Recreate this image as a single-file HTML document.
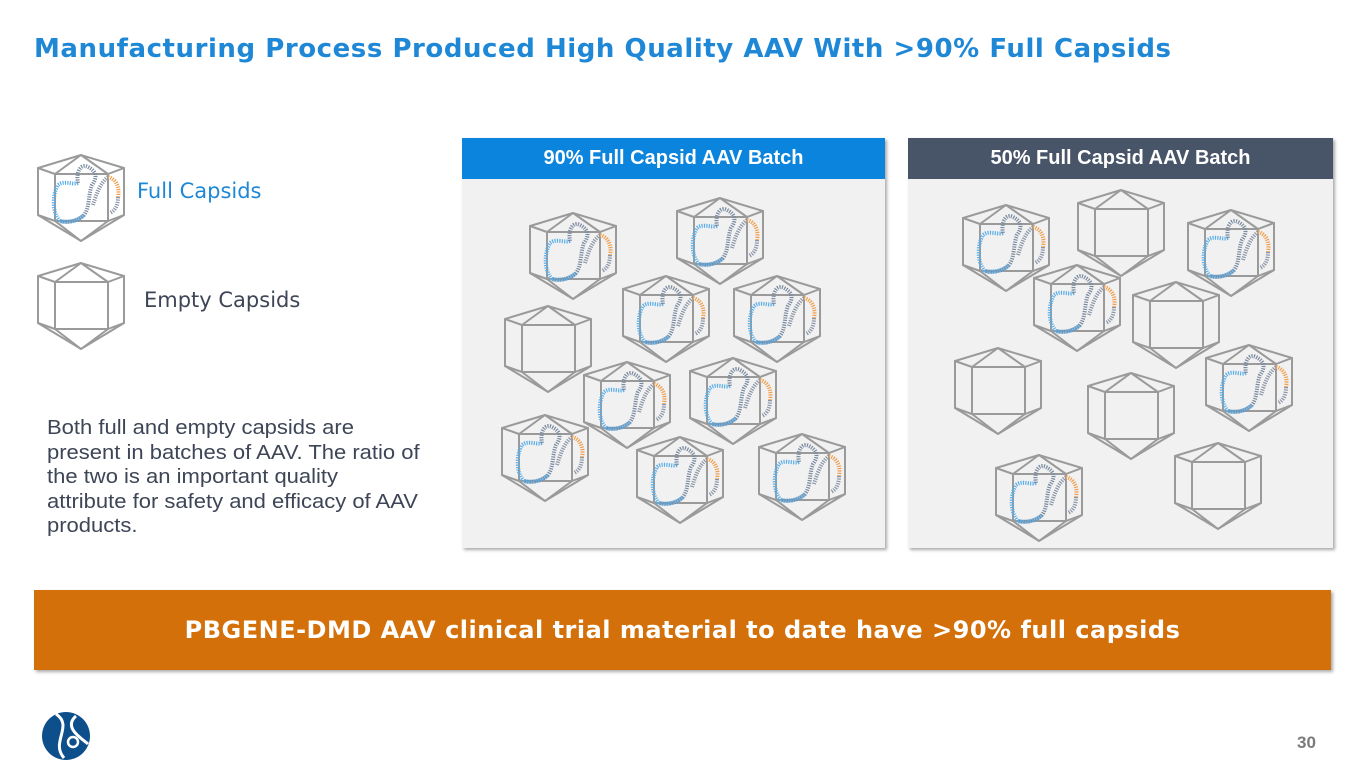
<!DOCTYPE html>
<html><head><meta charset="utf-8"><style>
body{margin:0;width:1365px;height:768px;background:#fff;position:relative;overflow:hidden;font-family:"Liberation Sans",sans-serif}
.t{position:absolute;white-space:nowrap}
</style></head><body>
<div class="t" style="left:34px;top:34px;font-size:26px;font-weight:bold;color:#1e88d6;font-family:'DejaVu Sans',sans-serif;letter-spacing:0.55px">Manufacturing Process Produced High Quality AAV With &gt;90% Full Capsids</div>
<div class="t" style="left:137px;top:179px;font-size:21px;color:#1e88d6;font-family:'DejaVu Sans',sans-serif">Full Capsids</div>
<div class="t" style="left:144px;top:288px;font-size:21px;color:#3d4556;font-family:'DejaVu Sans',sans-serif">Empty Capsids</div>
<div class="t" style="left:47px;top:416px;font-size:20px;line-height:24.5px;color:#3d4556;transform:scaleX(1.1);transform-origin:0 0">Both full and empty capsids are<br>present in batches of AAV. The ratio of<br>the two is an important quality<br>attribute for safety and efficacy of AAV<br>products.</div>
<div style="position:absolute;left:462px;top:138px;width:423px;height:410px;background:#f1f1f1;box-shadow:2px 2px 3px #aaa"></div>
<div style="position:absolute;left:908px;top:138px;width:425px;height:410px;background:#f1f1f1;box-shadow:2px 2px 3px #aaa"></div>
<div class="t" style="left:462px;top:138px;width:423px;height:41px;background:#0a84dc;color:#fff;font-size:20px;font-weight:bold;text-align:center;line-height:41px">90% Full Capsid AAV Batch</div>
<div class="t" style="left:908px;top:138px;width:425px;height:41px;background:#485468;color:#fff;font-size:20px;font-weight:bold;text-align:center;line-height:41px">50% Full Capsid AAV Batch</div>
<svg style="position:absolute;left:0;top:0" width="1365" height="768">
<defs>
<g id="e" fill="none" stroke="#9a9a9a" stroke-width="2">
<polygon points="43,0 0,13 0,60 43,86 86,60 86,13"/>
<rect x="17" y="19" width="53" height="47"/>
<path d="M43,0L17,19M43,0L70,19M0,13L17,19M86,13L70,19M0,60L17,66M86,60L70,66M43,86L17,66M43,86L70,66"/>
</g>
<g id="f">
<use href="#e"/>
<g fill="none" stroke-width="4" stroke-dasharray="1.2 1.2">
<path d="M22,66 C14,58 14,40 20,30 C26,25 34,30 40,28" stroke="#5aaee8"/>
<path d="M40,28 C38,18 42,8 50,12 C58,16 60,22 54,30 C50,40 52,52 46,60 C40,66 30,68 22,66" stroke="#7a8aa0"/>
<path d="M22,66 C30,68 40,66 46,60" stroke="#5aaee8"/>
<path d="M55,50 C58,40 62,28 70,22" stroke="#8a96a8"/>
<path d="M70,22 C78,24 82,32 80,42" stroke="#f0a050"/>
<path d="M80,42 C80,52 76,56 72,58" stroke="#8a96a8"/>
</g>
</g>
</defs>
<use href="#f" x="38" y="155"/>
<use href="#e" x="38" y="263"/>
<use href="#f" x="530" y="213"/><use href="#f" x="677" y="198"/><use href="#f" x="623" y="276"/><use href="#f" x="734" y="276"/><use href="#f" x="584" y="362"/><use href="#f" x="690" y="358"/><use href="#f" x="502" y="415"/><use href="#f" x="637" y="437"/><use href="#f" x="759" y="434"/><use href="#e" x="505" y="306"/>
<use href="#f" x="963" y="205"/><use href="#f" x="1188" y="210"/><use href="#f" x="1034" y="265"/><use href="#f" x="1206" y="345"/><use href="#f" x="996" y="455"/>
<use href="#e" x="1078" y="190"/><use href="#e" x="1133" y="282"/><use href="#e" x="955" y="348"/><use href="#e" x="1088" y="373"/><use href="#e" x="1175" y="443"/>
<circle cx="66" cy="736" r="24" fill="#0d4f8b"/>
<path d="M56,714 C74,726 50,742 64,758 M76,716 C62,728 84,740 88,744" stroke="#fff" stroke-width="3" fill="none"/>
<circle cx="73" cy="742" r="5" fill="none" stroke="#fff" stroke-width="2.5"/>
</svg>
<div class="t" style="left:34px;top:590px;width:1297px;height:80px;background:#d4700a;box-shadow:2px 2px 3px #aaa;color:#fff;font-size:24px;font-weight:bold;text-align:center;line-height:80px;font-family:'DejaVu Sans',sans-serif;letter-spacing:0.5px">PBGENE-DMD AAV clinical trial material to date have &gt;90% full capsids</div>
<div class="t" style="left:1297px;top:733px;font-size:17px;font-weight:bold;color:#7a7a7a">30</div>
</body></html>
